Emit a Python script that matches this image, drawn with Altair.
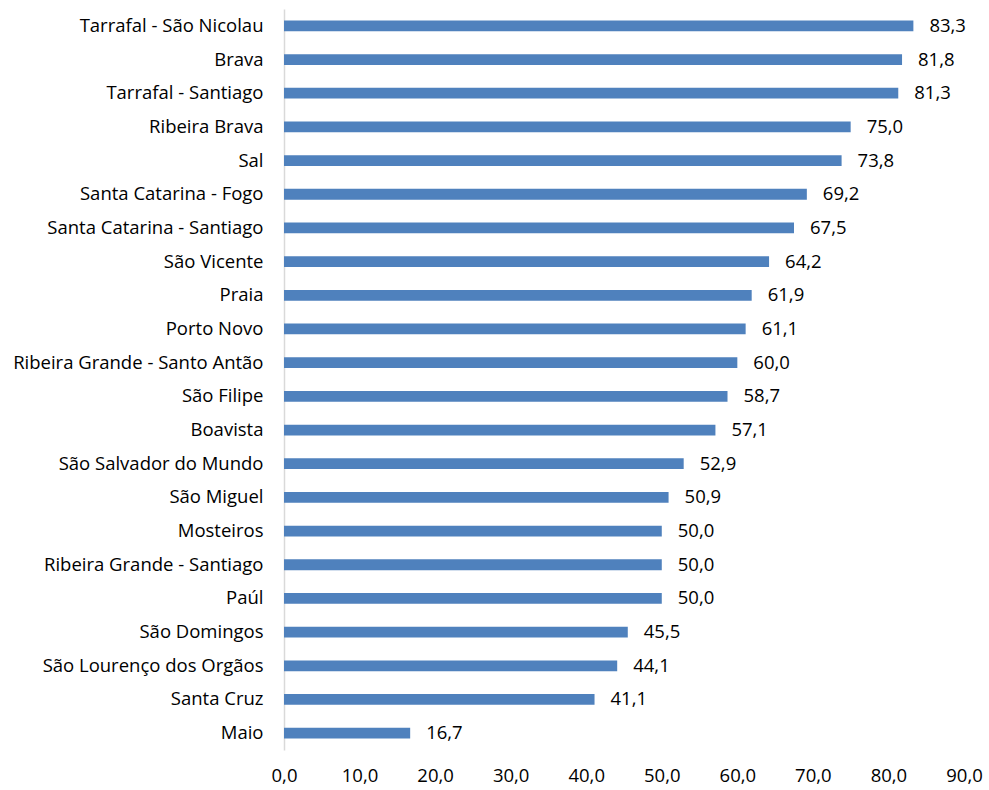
import altair as alt
import pandas as pd

municipios = [
    "Tarrafal - São Nicolau", "Brava", "Tarrafal - Santiago", "Ribeira Brava", "Sal",
    "Santa Catarina - Fogo", "Santa Catarina - Santiago", "São Vicente", "Praia",
    "Porto Novo", "Ribeira Grande - Santo Antão", "São Filipe", "Boavista",
    "São Salvador do Mundo", "São Miguel", "Mosteiros", "Ribeira Grande - Santiago",
    "Paúl", "São Domingos", "São Lourenço dos Orgãos", "Santa Cruz", "Maio",
]
valores = [83.3, 81.8, 81.3, 75.0, 73.8, 69.2, 67.5, 64.2, 61.9, 61.1, 60.0, 58.7,
           57.1, 52.9, 50.9, 50.0, 50.0, 50.0, 45.5, 44.1, 41.1, 16.7]
x_ticks = [0, 10, 20, 30, 40, 50, 60, 70, 80, 90]

df = pd.DataFrame({"municipio": municipios, "valor": valores})

FONT = "Open Sans"
FS = 18.5

base = alt.Chart(df).encode(
    y=alt.Y("municipio:N", sort=municipios, title=None,
            scale=alt.Scale(paddingInner=0.68, paddingOuter=0.34),
            axis=alt.Axis(domain=True, domainColor="#D9D9D9", domainWidth=1.5,
                          ticks=False, labelPadding=21, labelFontSize=FS,
                          labelColor="#000000", labelFont=FONT, labelLimit=400)),
    x=alt.X("valor:Q", title=None,
            scale=alt.Scale(domain=[0, 90], nice=False),
            axis=alt.Axis(values=x_ticks, domain=False, ticks=False, grid=False,
                          labelPadding=16, labelFontSize=FS, labelColor="#000000",
                          labelFont=FONT, labelFlush=False, labelOverlap=False,
                          labelExpr="replace(format(datum.value, '.1f'), '.', ',')")),
)

bars = base.mark_bar(color="#4F81BD")

labels = base.transform_calculate(
    rotulo="replace(format(datum.valor, '.1f'), '.', ',')"
).mark_text(align="left", baseline="middle", dx=16, fontSize=FS, font=FONT,
            color="#000000").encode(text="rotulo:N")

chart = alt.layer(bars, labels).properties(
    width=680, height=741,
    padding={"left": 284, "top": 9, "right": 25, "bottom": 40},
    autosize=alt.AutoSizeParams(type="none"),
    background="#FFFFFF",
).configure_view(stroke=None)

chart.save("out.html", embed_options={"renderer": "svg", "actions": False})
